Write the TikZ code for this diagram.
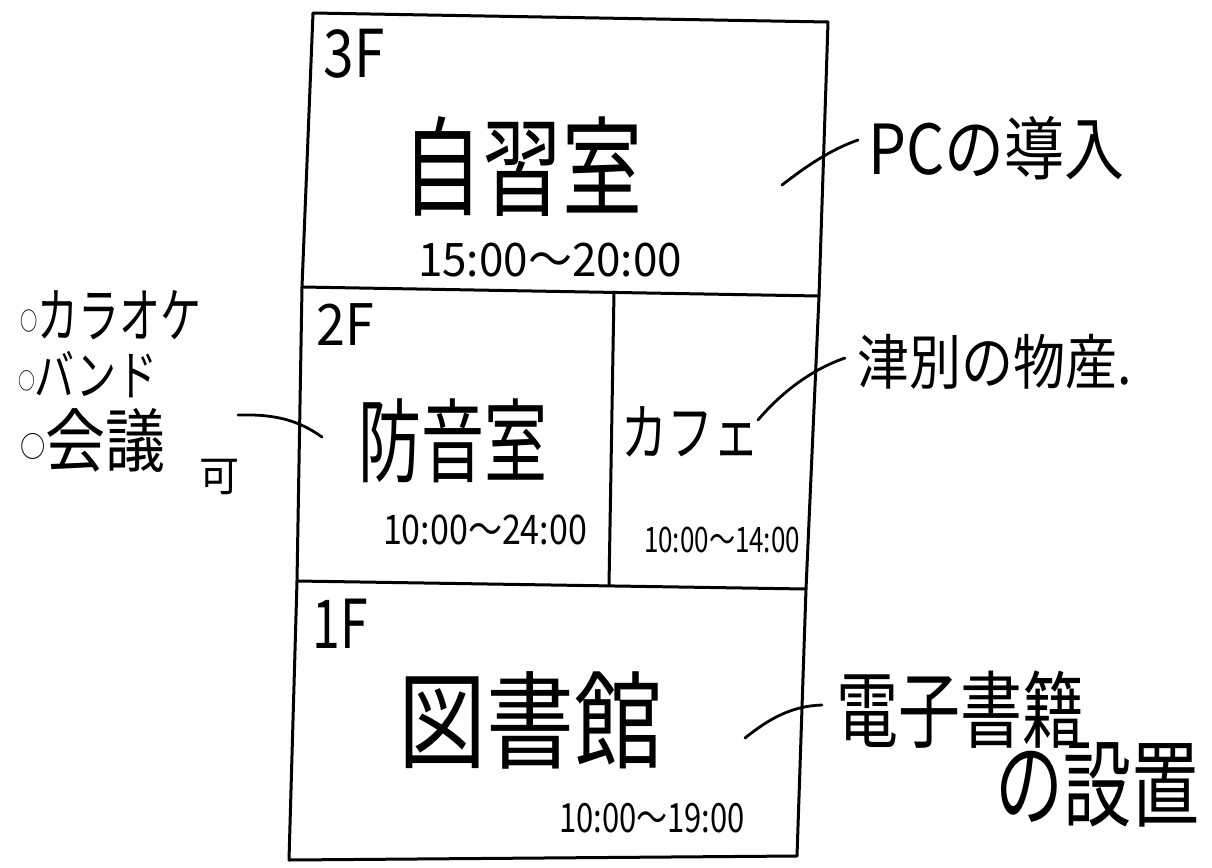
\documentclass[tikz,border=0pt]{standalone}
\usepackage{fontspec}
\setmainfont{Noto Sans CJK JP}
\newcommand\hwtext[3]{\scalebox{1}[#2]{\fontsize{#1}{#1}\selectfont #3}}
\newcommand\bulmark{\raisebox{0.12em}{\scalebox{0.42}{○}}}
\tikzset{
  wall/.style={line width=3pt, line join=round, line cap=round},
  lead/.style={line width=2.8pt, line cap=round},
  lbl/.style={inner sep=0pt, anchor=center},
}
\begin{document}
\begin{tikzpicture}[x=1pt,y=-1pt]
\useasboundingbox (0,0) rectangle (1212,867);
% building corners
\coordinate (TL) at (313,13);
\coordinate (TR) at (828,22);
\coordinate (L32) at (302,287);
\coordinate (R32) at (819,296);
\coordinate (L21) at (297,581);
\coordinate (R21) at (806,589);
\coordinate (BL) at (289,860);
\coordinate (BR) at (797,856);
\coordinate (DT) at (614,292);
\coordinate (DB) at (609,585);
% walls
\draw[wall] (TL) -- (L32) -- (L21) -- (BL) -- (BR) -- (R21) -- (R32) -- (TR) -- cycle;
\draw[wall] (L32) -- (R32);
\draw[wall] (L21) -- (R21);
\draw[wall] (DT) -- (DB);
% 3F
\node[lbl] (f3) at (354,54) {\hwtext{55}{1.2}{3F}};
\node[lbl] (jishu) at (522,167) {\hwtext{80}{1.35}{自習室}};
\node[lbl] (h3) at (550,260) {\hwtext{44}{1.05}{15:00〜20:00}};
% 2F
\node[lbl] (f2) at (345,325) {\hwtext{52}{1.1}{2F}};
\node[lbl] (bouon) at (453,441) {\hwtext{63}{1.45}{防音室}};
\node[lbl] (h2a) at (485,530) {\hwtext{34}{1.2}{10:00〜24:00}};
\node[lbl] (cafe) at (690,432) {\hwtext{46}{1.35}{カフェ}};
\node[lbl] (h2b) at (722,540) {\hwtext{26}{1.35}{10:00〜14:00}};
% 1F
\node[lbl] (f1) at (340,624) {\hwtext{50}{1.35}{1F}};
\node[lbl] (tosho) at (530,720) {\hwtext{88}{1.2}{図書館}};
\node[lbl] (h1) at (652,818) {\hwtext{31}{1.3}{10:00〜19:00}};
% left list
\node[lbl,anchor=west] (k1) at (20,315) {\hwtext{41}{1.45}{\bulmark カラオケ}};
\node[lbl,anchor=west] (k2) at (18,375) {\hwtext{40}{1.35}{\bulmark バンド}};
\node[lbl,anchor=west] (k3) at (20,440) {\hwtext{60}{1.15}{\bulmark 会議}};
\node[lbl] (ka) at (219,477) {\hwtext{40}{1.05}{可}};
% right notes
\node[lbl,anchor=west] (pc) at (868,148) {\hwtext{60}{1.15}{PCの導入}};
\node[lbl] (tsu) at (995,362) {\hwtext{52}{1.15}{津別の物産.}};
\node[lbl] (den) at (960,710) {\hwtext{62}{1.35}{電子書籍}};
\node[lbl] (set) at (1097,785) {\hwtext{68}{1.4}{の設置}};
% leader lines
\coordinate (la) at (238,415);
\coordinate (lb) at (322,437);
\coordinate (pa) at (782,185);
\coordinate (pb) at (858,140);
\coordinate (ta) at (758,420);
\coordinate (tb) at (845,358);
\coordinate (da) at (745,738);
\coordinate (db) at (822,705);
\draw[lead] (la) .. controls (275,414) and (298,420) .. (lb);
\draw[lead] (pa) .. controls (808,165) and (830,150) .. (pb);
\draw[lead] (ta) .. controls (780,394) and (810,370) .. (tb);
\draw[lead] (da) .. controls (770,718) and (792,706) .. (db);
\end{tikzpicture}
\end{document}
